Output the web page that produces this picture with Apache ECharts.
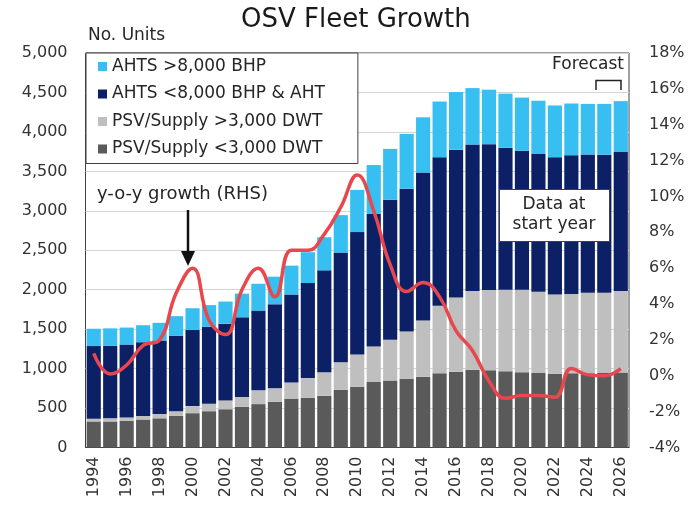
<!DOCTYPE html>
<html>
<head>
<meta charset="utf-8">
<script src="https://cdn.jsdelivr.net/npm/echarts@6/dist/echarts.min.js"></script>
<style>
  html, body { margin: 0; padding: 0; background: #fff; }
  #chart { width: 691px; height: 506px; }
</style>
</head>
<body>
<div id="chart"></div>
<script>
const years = [];
for (let y = 1994; y <= 2026; y++) years.push(String(y));

// segment values (units), bottom to top of each stack
const psvSmall = [330, 330, 340, 355, 370, 400, 435, 460, 485, 515, 550, 580, 620, 630, 655, 730, 770,
    830, 850, 870, 895, 940, 960, 985, 980, 965, 955, 945, 935, 940, 940, 945, 950];
const psvLarge = [35, 40, 40, 45, 55, 60, 90, 95, 110, 125, 175, 170, 205, 250, 300, 350, 410,
    450, 515, 600, 715, 855, 940, 1000, 1015, 1035, 1045, 1030, 1005, 1005, 1020, 1015, 1035];
const ahtsSmall = [920, 920, 925, 935, 930, 955, 965, 975, 975, 1010, 1010, 1065, 1115, 1205, 1290, 1390, 1550,
    1680, 1775, 1810, 1875, 1885, 1875, 1855, 1850, 1800, 1760, 1745, 1740, 1760, 1755, 1750, 1760];
const ahtsLarge = [220, 220, 215, 215, 225, 250, 275, 275, 280, 300, 340, 350, 365, 390, 420, 475, 535,
    620, 645, 695, 700, 705, 730, 715, 690, 685, 675, 675, 655, 655, 640, 645, 645];
// y-o-y growth, %
const growth = [1.25, 0.1, 0.6, 1.7, 2.0, 4.6, 6.0, 3.1, 2.3, 4.8, 6.0, 4.4, 7.0, 7.0, 7.9, 9.4, 11.2,
    9.2, 6.2, 4.7, 5.2, 4.4, 2.5, 1.4, -0.3, -1.25, -1.1, -1.1, -1.2, 0.4, 0.05, 0.0, 0.4];

const FONT = 'DejaVu Sans';
const myChart = echarts.init(document.getElementById('chart'));

function barSeries(name, data, color) {
    return {
        name: name,
        type: 'bar',
        stack: 'fleet',
        data: data,
        barCategoryGap: '14%',
        itemStyle: {color: color}
    };
}

const option = {
    backgroundColor: '#ffffff',
    animation: false,
    textStyle: {fontFamily: FONT},
    title: {
        text: 'OSV Fleet Growth',
        left: 236,
        top: 2,
        textStyle: {fontFamily: FONT, fontSize: 26, fontWeight: 'normal', color: '#1a1a1a'}
    },
    legend: {
        orient: 'vertical',
        left: 86,
        top: 53,
        data: ['AHTS >8,000 BHP', 'AHTS <8,000 BHP & AHT', 'PSV/Supply >3,000 DWT', 'PSV/Supply <3,000 DWT'],
        icon: 'rect',
        itemWidth: 9,
        itemHeight: 9,
        itemGap: 10.5,
        padding: [5, 33, 6, 12],
        backgroundColor: '#ffffff',
        borderColor: '#404040',
        borderWidth: 1,
        textStyle: {fontFamily: FONT, fontSize: 17, color: '#262626'}
    },
    grid: {
        left: 85.5,
        right: 62,
        top: 53,
        bottom: 58.5,
        show: true,
        borderColor: '#404040',
        borderWidth: 1
    },
    xAxis: {
        type: 'category',
        data: years,
        axisLine: {lineStyle: {color: '#404040'}},
        axisTick: {show: false},
        axisLabel: {
            interval: 1,
            rotate: 90,
            margin: 9,
            fontFamily: FONT,
            fontSize: 16,
            color: '#333'
        }
    },
    yAxis: [
        {
            type: 'value',
            min: 0,
            max: 5000,
            interval: 500,
            axisLine: {show: false},
            axisTick: {show: false},
            splitLine: {lineStyle: {color: '#d4d4d4'}},
            axisLabel: {
                margin: 18,
                fontFamily: FONT,
                fontSize: 16,
                color: '#333',
                formatter: function (v) { return v.toLocaleString('en-US'); }
            }
        },
        {
            type: 'value',
            min: -4,
            max: 18,
            interval: 2,
            axisLine: {show: false},
            axisTick: {show: false},
            splitLine: {show: false},
            axisLabel: {
                margin: 20,
                fontFamily: FONT,
                fontSize: 16,
                color: '#333',
                formatter: '{value}%'
            }
        }
    ],
    series: [
        barSeries('PSV/Supply <3,000 DWT', psvSmall, '#5a5a5a'),
        barSeries('PSV/Supply >3,000 DWT', psvLarge, '#bfbfbf'),
        barSeries('AHTS <8,000 BHP & AHT', ahtsSmall, '#0c2066'),
        barSeries('AHTS >8,000 BHP', ahtsLarge, '#36bff0'),
        {
            name: 'y-o-y growth (RHS)',
            type: 'line',
            yAxisIndex: 1,
            data: growth,
            smooth: 0.45,
            symbol: 'none',
            lineStyle: {color: '#e9474e', width: 3.5},
            z: 5
        }
    ],
    graphic: [
        {
            type: 'text',
            left: 88,
            top: 27,
            style: {text: 'No. Units', font: '17px "DejaVu Sans"', fill: '#262626'}
        },
        {
            type: 'text',
            left: 97,
            top: 185,
            z: 10,
            style: {text: 'y-o-y growth (RHS)', font: '18px "DejaVu Sans"', fill: '#262626'}
        },
        {
            type: 'line',
            z: 10,
            shape: {x1: 188, y1: 210, x2: 188, y2: 254},
            style: {stroke: '#111', lineWidth: 2.5}
        },
        {
            type: 'polygon',
            z: 10,
            shape: {points: [[181, 251], [195, 251], [188, 266]]},
            style: {fill: '#111'}
        },
        {
            type: 'rect',
            z: 10,
            shape: {x: 499.5, y: 189.5, width: 110, height: 52},
            style: {fill: '#ffffff', stroke: '#404040', lineWidth: 1}
        },
        {
            type: 'text',
            z: 11,
            x: 554,
            y: 215,
            style: {
                text: 'Data at\nstart year',
                font: '17px "DejaVu Sans"',
                fill: '#262626',
                align: 'center',
                verticalAlign: 'middle',
                lineHeight: 20
            }
        },
        {
            type: 'text',
            right: 67,
            top: 56,
            z: 10,
            style: {text: 'Forecast', font: '17px "DejaVu Sans"', fill: '#262626'}
        },
        {
            type: 'polyline',
            z: 10,
            shape: {points: [[596, 90], [596, 80.5], [621, 80.5], [621, 90]]},
            style: {stroke: '#222', lineWidth: 1.5, fill: null}
        }
    ]
};

myChart.setOption(option);
window.onresize = myChart.resize;
</script>
</body>
</html>
